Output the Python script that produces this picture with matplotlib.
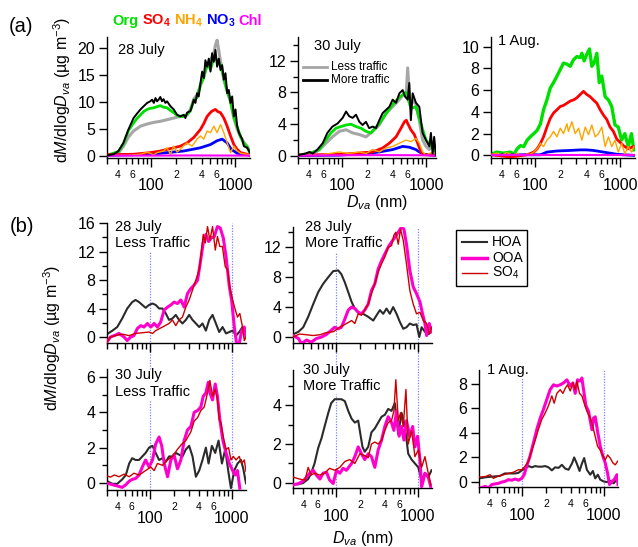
import matplotlib
matplotlib.use('Agg')
import matplotlib.pyplot as plt

plt.rcParams['font.family'] = ['Liberation Sans', 'DejaVu Sans']
plt.rcParams['mathtext.fontset'] = 'custom'
plt.rcParams['mathtext.rm'] = 'Liberation Sans'
plt.rcParams['mathtext.it'] = 'Liberation Sans:italic'
plt.rcParams['mathtext.bf'] = 'Liberation Sans:bold'

# ---------------- DATA (diameter Dva in nm, dM/dlogDva in ug m-3) ----------------
# (a) 28 July
a1_more_d = [30,36,41,47,54,62,68,75,82,90,98,103,108,113,118,123,129,135,141,148,155,170,186,204,223,245,256,268,294,307,322,337,353,369,387,405,424,443,464,486,509,532,557,583,610,639,669,700,733,767,803,841,880,921,964,1009,1056,1106,1157,1211,1268,1389,1500]
a1_more = [0.1,0.3,0.9,2.4,4.9,7.0,7.8,8.6,9.2,9.8,10.1,10.4,9.8,10.7,10.1,10.4,10.9,10.1,10.5,9.8,10.1,9.2,8.6,7.6,7.3,7.6,7.0,8.0,8.3,9.2,10.4,9.8,11.6,11.0,13.5,15.6,14.4,17.7,16.5,18.0,15.6,19.0,17.4,19.6,16.5,18.0,15.9,16.8,14.1,15.3,11.6,12.2,9.8,11.0,7.3,8.6,5.5,4.3,3.7,3.1,1.8,1.5,0.6]
a1_less_d = [30,41,47,54,62,75,90,108,129,155,186,223,268,294,322,353,387,424,464,509,557,583,610,639,669,700,733,803,880,964,1056,1157,1268,1389,1500]
a1_less = [0.1,0.5,1.8,3.5,4.6,5.5,5.9,6.2,6.4,6.7,7.0,7.3,7.6,8.6,10.5,11.3,13.0,14.9,16.5,17.7,19.0,20.5,21.4,19.5,17.5,16.0,14.0,12.0,10.0,7.0,5.0,3.5,2.5,1.8,0.8]
a1_org_d = [30,41,47,54,62,68,75,82,90,98,108,118,129,141,155,170,186,204,223,245,268,294,322,353,387,424,464,509,557,610,669,733,803,880,964,1056,1157,1268,1389,1500]
a1_org = [0.1,0.8,2.2,4.7,6.1,6.9,7.6,8.2,8.6,8.8,8.9,9.1,9.3,9.0,8.9,8.4,8.0,7.5,7.3,7.3,7.6,8.4,10.2,10.8,13.2,14.5,17.2,16.0,18.2,17.7,16.8,14.5,12.0,10.2,7.2,5.4,3.6,2.3,1.6,0.5]
a1_so4_d = [30,62,98,129,155,186,223,268,322,387,424,464,500,532,583,620,669,733,803,880,964,1056,1157,1389,1500]
a1_so4 = [0.2,0.3,0.6,0.9,1.2,1.5,1.8,2.4,3.4,4.9,6.0,7.3,7.9,8.3,8.6,8.2,8.0,7.0,5.5,3.7,2.1,1.2,0.6,0.3,0.1]
a1_nh4_d = [30,52,75,90,108,118,141,155,170,186,204,223,245,268,307,353,387,424,464,509,557,610,669,733,803,880,964,1056,1157,1389,1500]
a1_nh4 = [0.1,0.1,0.3,0.7,0.2,0.6,0.9,1.5,0.3,1.8,0.7,1.2,1.9,2.4,1.8,3.1,3.7,3.1,4.6,4.3,5.5,4.3,5.8,4.3,2.4,0.6,1.8,0.9,0.5,0.3,0.2]
a1_no3_d = [30,98,155,245,387,509,610,700,803,900,1056,1389,1500]
a1_no3 = [0.1,0.3,0.6,0.9,1.5,2.1,2.8,3.1,2.4,1.2,0.5,0.2,0.1]
a1_chl_d = [30,100,300,1000,1500]
a1_chl = [0.05,0.05,0.08,0.06,0.05]

# (a) 30 July
a2_more_d = [30,37,41,45,51,59,67,77,89,102,112,122,134,147,161,176,193,211,232,254,278,305,334,366,401,440,482,528,562,605,632,660,694,759,832,911,1000,1095,1144,1199,1250,1312]
a2_more = [0.1,0.3,0.5,0.3,0.8,1.6,2.9,3.7,4.1,4.8,5.6,5.0,4.8,5.2,4.3,3.9,4.3,3.5,3.7,3.5,4.5,5.4,5.8,6.2,7.1,6.7,7.9,8.3,7.5,7.1,9.2,4.5,7.9,6.7,6.2,2.9,2.0,1.2,2.9,0.3,2.4,0.1]
a2_less_d = [30,41,51,59,77,93,112,134,161,193,232,278,334,401,482,553,580,605,645,694,759,832,911,1000,1095,1199,1312]
a2_less = [0.1,0.3,0.6,1.2,2.4,3.1,3.3,2.9,2.7,2.4,3.1,3.9,5.4,6.2,7.1,7.9,7.5,11.1,6.5,7.0,6.5,4.5,2.0,1.2,0.8,1.5,0.5]
a2_org_d = [30,41,54,64,74,85,97,112,128,147,168,193,221,278,334,401,482,577,663,759,872,1000,1199,1312]
a2_org = [0.1,0.3,0.8,2.0,2.9,3.5,3.7,3.9,4.0,3.7,3.5,3.1,2.9,4.1,5.3,6.5,7.4,8.0,6.0,6.2,4.0,2.0,1.0,0.3]
a2_so4_d = [30,100,232,305,366,440,504,553,584,605,660,726,796,872,955,1312]
a2_so4 = [0.1,0.2,0.5,1.0,1.6,2.4,3.5,4.3,4.5,4.1,3.3,2.7,1.6,0.5,0.15,0.1]
a2_nh4_d = [37,54,71,93,122,161,193,232,278,334,401,482,577,663,759,832,911,1000,1199,1312]
a2_nh4 = [0.1,0.1,0.3,0.5,0.3,0.5,0.3,0.8,0.5,1.0,1.2,1.6,2.0,1.8,2.2,1.6,0.5,0.1,0.5,0.3]
a2_no3_d = [30,93,193,278,401,528,632,759,832,955,1312]
a2_no3 = [0.05,0.1,0.3,0.5,0.8,1.2,1.1,0.8,0.5,0.2,0.05]
a2_chl_d = [30,100,300,1000,1312]
a2_chl = [0.05,0.08,0.1,0.08,0.05]

# (a) 1 Aug.
a3_org_d = [30,35,42,51,56,61,67,73,80,87,96,105,115,125,137,150,164,180,197,215,236,258,282,309,338,354,377,405,435,464,494,532,568,609,666,729,797,871,953,1042,1139,1246,1362,1451]
a3_org = [0.1,0.3,0.2,0.3,0.1,0.6,0.9,0.8,1.4,1.7,2.0,2.3,2.9,4.2,5.1,6.2,6.7,7.3,7.9,8.5,8.4,8.2,8.8,9.1,9.0,9.4,8.7,9.3,9.8,8.2,8.5,9.4,6.7,7.3,5.4,5.1,4.5,2.8,2.6,1.4,2.0,0.8,2.0,0.5]
a3_so4_d = [30,51,80,96,105,115,125,137,150,164,180,197,215,236,258,282,309,338,370,405,443,484,532,582,637,697,762,835,913,1000,1093,1246,1430]
a3_so4 = [0.05,-0.15,0.05,0.3,0.6,1.1,1.7,2.6,3.4,3.9,4.2,4.5,4.6,4.8,5.0,5.1,5.3,5.6,5.9,5.6,5.4,5.1,4.8,4.2,3.7,3.3,2.6,2.2,1.5,1.2,0.9,0.6,0.8]
a3_nh4_d = [31,35,41,46,53,61,70,80,87,96,105,115,125,137,150,164,180,197,215,236,246,270,295,324,354,388,424,464,509,556,609,666,729,797,871,953,1042,1139,1246,1362,1451]
a3_nh4 = [0.1,0.2,0.05,0.25,0.05,0.15,0.0,0.1,0.1,0.3,0.6,1.1,0.8,1.4,1.7,2.2,1.7,2.5,2.0,2.9,2.2,3.1,2.0,2.5,1.4,2.6,1.9,2.8,1.7,2.0,2.6,0.8,1.7,0.8,1.4,0.3,1.1,0.15,0.8,0.3,0.8]
a3_no3_d = [30,60,115,137,180,258,338,405,484,532,637,762,913,1093,1451]
a3_no3 = [0.05,0.05,0.05,0.3,0.4,0.45,0.5,0.5,0.45,0.4,0.3,0.2,0.1,0.05,0.0]
a3_chl_d = [30,100,300,1000,1500]
a3_chl = [0.05,0.05,0.05,0.05,0.05]

# (b) 28 July, less traffic
b11_hoa_d = [30,35,40,46,53,61,67,74,81,89,98,108,118,130,143,157,172,189,208,228,251,276,303,333,366,402,441,485,533,585,643,706,776,855,938,1030,1134,1240,1360,1500]
b11_hoa = [0.4,0.9,1.4,2.6,4.0,4.9,5.2,4.9,4.5,4.1,4.5,4.7,4.5,4.0,4.0,3.3,2.4,2.6,3.1,2.4,1.9,2.4,3.1,2.4,1.9,1.4,1.9,0.9,2.4,3.1,1.9,0.7,1.4,0.5,0.7,0.9,0.2,0.7,1.4,0.5]
b11_ooa_d = [30,33,37,42,48.5,53,58.5,64,70.6,77.6,85,93.6,103,113,124,136,150,165,181,198,218,240,263,289,318,349,384,414,450,485,523,564,614,672,726,792,855,938,1000,1080,1150,1240,1330,1430,1500]
b11_ooa = [-0.7,0,0.2,0.5,0,-0.5,0,0.2,1.2,1.6,1.4,1.9,1.4,1.9,1.4,2.1,3.8,4.2,4.5,4.9,4.7,5.2,4.2,6.1,6.8,7.3,8.0,10.4,13.2,14.4,13.4,13.9,14.1,15.5,15.3,13.9,11.3,7.1,5.2,1.4,-0.9,-0.9,0.9,1.4,0.0]
b11_so4_d = [30,33,38,46,56,67,81,98,108,118,143,172,189,208,228,251,276,303,333,366,402,421,450,476,508,543,585,632,672,718,772,835,894,955,1030,1110,1180,1260,1360,1430,1500]
b11_so4 = [-0.7,0,0.2,0.4,0.2,0.5,0.6,0.7,0.5,0.9,1.4,1.9,2.4,1.6,2.4,2.8,4.2,5.2,6.6,8.0,9.4,11.3,14.4,13.2,15.5,13.6,15.5,12.2,14.1,12.7,12.7,9.9,9.4,6.8,5.2,3.8,2.8,3.3,1.4,-0.5,0.0]

# (b) 28 July, more traffic
b12_hoa_d = [30,35,40,46,53,61,70,81,93,107,117,129,142,156,171,188,216,249,287,315,346,380,417,458,503,553,608,668,731,804,884,970,1048,1120,1230,1350,1480]
b12_hoa = [0.35,0.7,1.3,2.7,4.4,6.0,7.1,8.0,8.8,8.9,8.4,7.3,6.0,4.7,3.8,3.3,3.1,2.7,2.2,2.9,3.6,3.1,3.8,3.1,4.0,3.1,2.0,1.1,1.3,1.8,1.6,1.7,0.0,1.3,0.7,0.4,0.7]
b12_ooa_d = [30,35,38,44,50,58,67,77,88,97,107,117,129,142,156,171,188,206,226,249,273,300,330,363,398,437,480,527,580,637,681,731,804,884,970,1068,1150,1230,1290,1390,1480]
b12_ooa = [0.2,-0.2,-0.9,-0.4,-0.7,-0.2,0,0.35,0.9,1.3,1.1,1.3,2.4,3.6,4.0,3.8,3.3,3.1,3.6,4.4,6.2,7.1,9.1,10.2,11.1,12.0,12.7,13.3,14.0,14.7,14.4,12.4,8.9,6.7,5.8,4.7,3.1,1.8,0.2,1.8,0.7]
b12_so4_d = [30,36,44,53,64,77,93,112,135,156,171,188,206,226,249,273,300,330,363,398,437,480,513,542,580,619,668,731,804,884,970,1068,1175,1290,1390,1480]
b12_so4 = [0,0.4,0.3,0.2,0.3,0.6,0.7,1.3,1.8,2.2,1.8,3.1,2.9,3.6,4.4,5.8,7.1,8.7,9.8,10.7,12.0,12.2,13.6,14.0,12.4,14.4,12.9,9.8,6.2,4.4,3.1,3.3,2.2,1.8,0.4,1.3]

# (b) 30 July, less traffic
b21_hoa_d = [30,35,40,46,51,56,61,67,74,81,89,98,108,118,130,143,157,172,189,208,228,251,276,303,333,366,402,441,485,523,574,631,693,762,836,919,982,1078,1183,1300,1390,1500]
b21_hoa = [0.1,-0.05,-0.05,0.2,0.45,1.1,1.4,1.3,1.3,1.5,1.7,2.0,2.1,1.7,1.3,1.4,1.2,1.5,1.5,1.7,1.6,1.5,1.9,2.1,1.5,0.35,0.7,1.3,2.0,1.1,2.1,1.7,2.4,1.1,1.9,0.55,-0.3,0.7,1.1,1.3,0.8,-0.02]
b21_ooa_d = [30,35,40,46,51,56,61,67,74,81,89,98,108,118,130,140,150,165,181,198,218,240,263,289,318,349,384,421,450,485,519,543,585,631,672,718,783,855,938,1030,1110,1180,1260]
b21_ooa = [-0.02,-0.1,-0.17,-0.25,-0.1,0.1,0.2,0.25,0.45,0.9,1.3,0.9,1.3,2.2,2.6,2.1,1.1,0.35,1.3,1.6,0.8,1.3,2.4,3.0,3.2,4.0,4.1,4.3,4.9,5.1,5.7,5.1,4.7,5.6,4.9,3.6,2.4,1.7,1.1,0.7,0.45,0.7,-0.3]
b21_so4_d = [30,33,37,42,48.5,56,64,74,89,103,113,124,143,164.6,189,218,246,276,318,349,384,421,463,508,543,585,631,672,705,742,792,855,919,982,1050,1134,1240,1330,1430,1500]
b21_so4 = [0.4,0.33,0.45,0.35,0.5,0.35,0.55,0.45,0.7,0.9,0.7,1.1,1.0,1.3,1.5,1.9,2.2,2.4,2.9,3.5,3.7,4.1,4.3,5.1,5.8,4.9,5.3,4.7,3.6,3.4,2.6,1.9,2.0,1.3,1.5,1.3,1.5,1.1,1.3,0.65]

# (b) 30 July, more traffic
b22_hoa_d = [30,35,40,46,50,55,61,67,73,81,88,97,107,117,129,142,156,171,188,200,212,226,249,273,300,330,363,398,437,480,527,580,637,700,768,845,928,1020,1120,1230,1350,1480]
b22_hoa = [-0.07,-0.07,0,0.2,0.5,1.0,1.8,2.3,2.9,3.6,4.1,4.3,4.3,4.3,4.2,3.7,3.3,3.1,3.2,2.5,1.85,1.6,1.85,2.6,2.8,3.1,3.4,3.5,3.8,3.7,4.1,2.5,3.6,2.9,1.5,1.2,1.0,0.8,0.14,0.5,0.3,0.65]
b22_ooa_d = [30,35,40,44,48,53,58,64,70,77,84,93,102,112,123,135,156,171,188,206,226,249,273,300,330,363,398,437,480,513,553,594,637,681,731,804,870,928,1000,1068,1120,1175,1230,1350,1450]
b22_ooa = [-0.1,-0.03,0.1,0.3,0.5,0.65,0.4,0.2,0.5,0.55,0.15,-0.03,0.65,0.5,0.75,0.65,1.0,1.35,1.85,1.5,1.2,1.5,1.35,0.8,1.7,2.2,2.9,3.4,3.1,2.7,3.7,2.4,2.9,2.2,3.2,2.4,2.9,1.85,2.4,1.2,-0.2,0.14,0.5,0.3,-0.2]
b22_so4_d = [30,36,42,46,50,55,64,73,84,97,112,129,148,171,197,226,249,273,300,330,363,398,437,480,513,542,580,619,668,720,768,845,928,1020,1120,1230,1350,1450]
b22_so4 = [0.3,0.2,0.14,0.8,0.4,0.5,0.4,0.5,0.75,0.65,0.8,1.1,1.2,1.0,1.5,1.4,1.3,2.0,2.1,2.0,2.2,2.7,3.1,3.2,3.7,5.3,3.2,3.6,2.9,4.8,2.0,2.7,1.35,1.7,0.8,1.35,0.5,-0.1]

# (b) 1 Aug.
b23_hoa_d = [30,37,45,54,62,72,83,91,100,110,121,133,146,160,176,193,212,233,256,281,309,339,373,410,437,471,508,543,579,625,687,740,790,851,909,1000,1098,1206,1325,1455,1500]
b23_hoa = [0.3,0.4,0.45,0.5,0.7,0.7,0.7,0.75,0.95,1.1,1.3,1.2,1.3,1.25,1.25,1.3,1.2,0.95,1.2,1.15,1.4,1.1,1.0,1.5,2.0,1.5,0.9,1.5,1.95,1.0,0.6,0.9,0.3,0.6,0.2,0.05,0,0.1,-0.1,0.2,0.0]
b23_ooa_d = [30,36,39,43,47,52,57,62,69,75,83,91,100,107,115,126,139,153,168,184,202,222,244,268,295,324,356,391,421,450,480,518,543,569,608,655,720,755,791,845,910,981,1048,1120,1180,1265,1350,1455,1500]
b23_ooa = [-0.5,-0.35,-0.5,-0.2,-0.15,-0.1,0,0.05,0.2,0.15,0.25,0.15,0.3,0.6,1.3,2.1,3.2,4.3,5.2,5.9,6.7,7.5,7.9,7.8,7.9,8.05,8.3,7.8,8.05,7.2,8.3,8.2,8.45,7.5,6.2,5.75,4.25,5.2,5.3,4.1,2.9,2.1,1.55,0.7,-0.2,0.05,0.2,0.6,-0.2]
b23_so4_d = [30,36,41,45,52,60,69,79,91,100,110,121,133,146,160,176,193,212,233,249,268,295,318,339,362,391,421,450,471,508,543,579,625,687,740,790,845,910,981,1048,1120,1206,1300,1390,1485]
b23_so4 = [0.4,0.45,0.6,0.3,0.5,0.6,0.7,0.8,1.0,1.0,1.3,1.7,2.6,3.4,4.3,5.1,5.6,6.2,7.0,6.4,7.2,7.5,7.2,7.6,7.9,7.4,8.05,7.5,8.2,7.2,7.0,6.4,5.75,5.2,4.5,3.7,2.9,2.6,2.1,1.8,2.2,1.95,1.55,1.4,1.7]

# tick labels
major_ticks = [100, 1000]
major_labels = ['100', '1000']
minor_ticks = [30, 40, 50, 60, 70, 80, 90, 200, 300, 400, 500, 600, 700, 800, 900]
minor_labels = ['', '4', '', '6', '', '', '', '2', '', '4', '', '6', '', '', '']

# ---------------- LAYOUT ----------------
W, H = 638, 547
fig = plt.figure(figsize=(W / 100, H / 100), dpi=100)


def box(l, t, r, b):
    return [l / W, 1 - b / H, (r - l) / W, (b - t) / H]


def style(ax, xlim, ylim, yticks, yminor, xlabels=True):
    ax.set_xscale('log')
    ax.set_xlim(*xlim)
    ax.set_ylim(*ylim)
    for s in ['top', 'right']:
        ax.spines[s].set_visible(False)
    for s in ['left', 'bottom']:
        ax.spines[s].set_linewidth(1.0)
    ax.set_xticks(major_ticks)
    ax.set_xticks(minor_ticks, minor=True)
    if xlabels:
        ax.set_xticklabels(major_labels)
        ax.set_xticklabels(minor_labels, minor=True)
    else:
        ax.set_xticklabels([])
        ax.set_xticklabels([], minor=True)
    ax.set_yticks(yticks)
    ax.set_yticks(yminor, minor=True)
    ax.tick_params(axis='x', which='major', direction='out', length=6.5, width=1, pad=8.5, labelsize=11.5)
    ax.tick_params(axis='x', which='minor', direction='out', length=4.3, width=1, pad=4.5, labelsize=7.5)
    ax.tick_params(axis='y', which='major', direction='out', length=6, width=1, pad=2.5, labelsize=11.5)
    ax.tick_params(axis='y', which='minor', direction='out', length=3.6, width=1)
    ax.patch.set_alpha(0)


C_ORG, C_SO4, C_NH4, C_NO3, C_CHL = '#00e000', '#ff0000', '#ffa500', '#0000ff', '#ff00ff'
C_GRAY = '#a6a6a6'
C_HOA, C_OOA, C_BSO4 = '#2b2b2b', '#ff00cc', '#cc0000'
C_VL = '#8080ff'


def draw_a(ax, org, so4, nh4, no3, chl, less=None, more=None, lw_org=2.0):
    if less is not None:
        ax.plot(less[0], less[1], color=C_GRAY, lw=2.2, zorder=1)
    ax.plot(org[0], org[1], color=C_ORG, lw=lw_org, zorder=2)
    ax.plot(no3[0], no3[1], color=C_NO3, lw=2.0, zorder=3)
    ax.plot(so4[0], so4[1], color=C_SO4, lw=2.0, zorder=4)
    ax.plot(nh4[0], nh4[1], color=C_NH4, lw=1.0, zorder=5)
    ax.plot(chl[0], chl[1], color=C_CHL, lw=1.5, zorder=6)
    if more is not None:
        ax.plot(more[0], more[1], color='black', lw=1.4, zorder=7)


def draw_b(ax, hoa, ooa, so4):
    ax.plot(hoa[0], hoa[1], color=C_HOA, lw=1.5, zorder=2)
    ax.plot(ooa[0], ooa[1], color=C_OOA, lw=2.2, zorder=3)
    ax.plot(so4[0], so4[1], color=C_BSO4, lw=1.0, zorder=4)


def vlines(ax, top100, ymin=0.0):
    ax.axvline(100, ymin=ymin, ymax=top100, color=C_VL, lw=0.9, ls=(0, (1, 1.2)), clip_on=False, zorder=0.5)
    ax.axvline(1000, ymin=ymin, ymax=1.0, color=C_VL, lw=0.9, ls=(0, (1, 1.2)), clip_on=False, zorder=0.5)


# row (a)
a1 = fig.add_axes(box(107, 37, 250, 157.5))
style(a1, (30, 1500), (-0.3, 22), [0, 5, 10, 15, 20], [])
draw_a(a1, (a1_org_d, a1_org), (a1_so4_d, a1_so4), (a1_nh4_d, a1_nh4), (a1_no3_d, a1_no3),
       (a1_chl_d, a1_chl), less=(a1_less_d, a1_less), more=(a1_more_d, a1_more))

a2 = fig.add_axes(box(298, 37, 436, 157.5))
style(a2, (30, 1315), (-0.2, 15.0), [0, 4, 8, 12], [2, 6, 10, 14])
draw_a(a2, (a2_org_d, a2_org), (a2_so4_d, a2_so4), (a2_nh4_d, a2_nh4), (a2_no3_d, a2_no3),
       (a2_chl_d, a2_chl), less=(a2_less_d, a2_less), more=(a2_more_d, a2_more))

a3 = fig.add_axes(box(491, 37, 635, 157.5))
style(a3, (30, 1500), (-0.2, 10.9), [0, 2, 4, 6, 8, 10], [])
draw_a(a3, (a3_org_d, a3_org), (a3_so4_d, a3_so4), (a3_nh4_d, a3_nh4), (a3_no3_d, a3_no3),
       (a3_chl_d, a3_chl), lw_org=2.4)

# row (b) top
b11 = fig.add_axes(box(107, 223, 246, 343))
style(b11, (30, 1500), (-0.84, 16.0), [0, 4, 8, 12, 16], [2, 6, 10, 14], xlabels=False)
draw_b(b11, (b11_hoa_d, b11_hoa), (b11_ooa_d, b11_ooa), (b11_so4_d, b11_so4))
vlines(b11, 0.76, ymin=-0.22)

b12 = fig.add_axes(box(293, 227, 432, 343))
style(b12, (30, 1500), (-0.8, 14.7), [0, 4, 8, 12], [2, 6, 10, 14], xlabels=False)
draw_b(b12, (b12_hoa_d, b12_hoa), (b12_ooa_d, b12_ooa), (b12_so4_d, b12_so4))
vlines(b12, 0.78, ymin=-0.23)

# row (b) bottom
b21 = fig.add_axes(box(107, 369, 246, 490))
style(b21, (30, 1500), (-0.4, 6.45), [0, 2, 4, 6], [1, 3, 5])
draw_b(b21, (b21_hoa_d, b21_hoa), (b21_ooa_d, b21_ooa), (b21_so4_d, b21_so4))
vlines(b21, 0.74)

b22 = fig.add_axes(box(293, 370, 432, 488))
style(b22, (30, 1500), (-0.26, 5.8), [0, 2, 4], [1, 3, 5])
draw_b(b22, (b22_hoa_d, b22_hoa), (b22_ooa_d, b22_ooa), (b22_so4_d, b22_so4))
vlines(b22, 0.80)

b23 = fig.add_axes(box(479, 370, 618, 487))
style(b23, (30, 1500), (-0.4, 9.1), [0, 2, 4, 6, 8], [])
draw_b(b23, (b23_hoa_d, b23_hoa), (b23_ooa_d, b23_ooa), (b23_so4_d, b23_so4))
vlines(b23, 0.93)

# ---------------- overlay annotations (pixel coordinates) ----------------
ov = fig.add_axes([0, 0, 1, 1])
ov.set_xlim(0, W)
ov.set_ylim(H, 0)
ov.axis('off')

ov.text(9, 27, '(a)', fontsize=14.5, va='center', ha='left')
ov.text(10, 227, '(b)', fontsize=14.5, va='center', ha='left')

for x, s, c in [(112, 'Org', C_ORG), (142, r'$\mathbf{SO_4}$', C_SO4), (174, r'$\mathbf{NH_4}$', C_NH4),
                (206, r'$\mathbf{NO_3}$', C_NO3), (238, 'Chl', C_CHL)]:
    ov.text(x, 25, s, color=c, fontsize=10.5, fontweight='bold', va='baseline', ha='left')

ylab = r'd$M$/dlog$D_{va}$ (µg m$^{-3}$)'
ov.text(62, 90, ylab, rotation=90, fontsize=11.5, va='center', ha='center')
ov.text(52, 338, ylab, rotation=90, fontsize=11.5, va='center', ha='center')
ov.text(377, 202, r'$D_{va}$ (nm)', fontsize=11.5, va='center', ha='center')
ov.text(363, 539, r'$D_{va}$ (nm)', fontsize=11.5, va='center', ha='center')

# panel titles
ov.text(118, 50, '28 July', fontsize=10.5, va='center', ha='left')
ov.text(314, 46, '30 July', fontsize=10.5, va='center', ha='left')
ov.text(498, 41, '1 Aug.', fontsize=10.5, va='center', ha='left')
ov.text(115, 227, '28 July', fontsize=10.5, va='center', ha='left')
ov.text(115, 243, 'Less Traffic', fontsize=10.5, va='center', ha='left')
ov.text(305, 227, '28 July', fontsize=10.5, va='center', ha='left')
ov.text(305, 243, 'More Traffic', fontsize=10.5, va='center', ha='left')
ov.text(115, 375, '30 July', fontsize=10.5, va='center', ha='left')
ov.text(115, 392, 'Less Traffic', fontsize=10.5, va='center', ha='left')
ov.text(303, 370, '30 July', fontsize=10.5, va='center', ha='left')
ov.text(303, 386, 'More Traffic', fontsize=10.5, va='center', ha='left')
ov.text(487, 370, '1 Aug.', fontsize=10.5, va='center', ha='left')

# legend in (a) 30 July
ov.plot([303, 327], [67, 67], color=C_GRAY, lw=2.0)
ov.plot([303, 327], [80, 80], color='black', lw=2.0)
ov.text(331, 67, 'Less traffic', fontsize=8.5, va='center', ha='left')
ov.text(331, 80, 'More traffic', fontsize=8.5, va='center', ha='left')

# legend for (b)
ov.add_patch(plt.Rectangle((456, 230), 71, 56, facecolor='white', edgecolor='black', lw=1.0))
for y, c, lw, s in [(242, C_HOA, 1.5, 'HOA'), (258, C_OOA, 2.5, 'OOA'), (273, C_BSO4, 1.0, r'SO$_4$')]:
    ov.plot([462, 487], [y, y], color=c, lw=lw)
    ov.text(492, y, s, fontsize=10, va='center', ha='left')

fig.savefig('out.png', dpi=100)
